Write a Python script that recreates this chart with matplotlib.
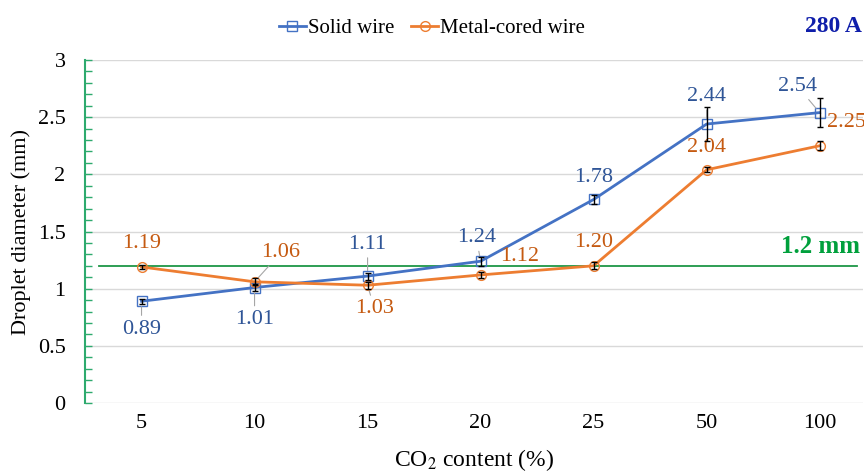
import matplotlib.pyplot as plt
import numpy as np

plt.rcParams['font.family'] = ['Liberation Serif', 'DejaVu Serif']
plt.rcParams['mathtext.fontset'] = 'stix'

co2 = ['5', '10', '15', '20', '25', '50', '100']
solid = [0.89, 1.01, 1.11, 1.24, 1.78, 2.44, 2.54]
solid_err = [0.02, 0.03, 0.03, 0.04, 0.04, 0.15, 0.13]
cored = [1.19, 1.06, 1.03, 1.12, 1.20, 2.04, 2.25]
cored_err = [0.02, 0.03, 0.03, 0.03, 0.03, 0.02, 0.04]

# label offsets in points (dx, dy), leader line yes/no
solid_off = [(0, -20, True), (0, -23, True), (0, 23, True), (-3, 17, True),
             (0, 16, False), (0, 20, True), (-16, 19, True)]
cored_off = [(0, 17, False), (19, 21, True), (5, -17, True), (28, 13, False),
             (0, 17, False), (0, 16, False), (19, 17, False)]

blue = '#4472C4'
orange = '#ED7D31'
blue_txt = '#2F5597'
orange_txt = '#C55A11'
green = '#2EAA6E'

fig = plt.figure(figsize=(8.64, 4.74), dpi=100)
ax = fig.add_axes([0.0984, 0.1498, 0.9, 0.7236])
x = np.arange(len(co2))

ax.errorbar(x, solid, yerr=solid_err, fmt='none', ecolor='black', elinewidth=1, capsize=2.5, zorder=4)
ax.errorbar(x, cored, yerr=cored_err, fmt='none', ecolor='black', elinewidth=1, capsize=2.5, zorder=4)
ax.plot(x, solid, color=blue, lw=2, marker='s', ms=7, mfc='none', mec=blue, mew=1,
        label='Solid wire', zorder=3)
ax.plot(x, cored, color=orange, lw=2, marker='o', ms=7, mfc='none', mec=orange, mew=1,
        label='Metal-cored wire', zorder=3)

lead_style = dict(arrowstyle='-', color='#A6A6A6', lw=0.8, shrinkA=1, shrinkB=4)
for xi, v, (dx, dy, lead) in zip(x, solid, solid_off):
    ax.annotate(f'{v:.2f}', (xi, v), xytext=(dx, dy), textcoords='offset points',
                ha='center', va='center', fontsize=16, color=blue_txt,
                arrowprops=lead_style if lead else None)
for xi, v, (dx, dy, lead) in zip(x, cored, cored_off):
    ax.annotate(f'{v:.2f}', (xi, v), xytext=(dx, dy), textcoords='offset points',
                ha='center', va='center', fontsize=16, color=orange_txt,
                arrowprops=lead_style if lead else None)

ax.plot([-0.38, 6.33], [1.2, 1.2], color='#1E9646', lw=1.3, zorder=2)
ax.text(6.36, 1.27, '1.2 mm', color='#00A03C', fontsize=18, fontweight='bold', ha='right', va='bottom')

ax.set_xlim(-0.5, 6.38)
ax.set_ylim(0, 3)
ax.set_yticks(np.arange(0, 3.01, 0.5))
ax.set_yticklabels(['0', '0.5', '1', '1.5', '2', '2.5', '3'])
ax.set_yticks(np.arange(0, 3.01, 0.1), minor=True)
ax.set_xticks(x)
ax.set_xticklabels(co2)
ax.yaxis.grid(True, color='#D9D9D9', lw=1)
ax.set_axisbelow(True)
for s in ['top', 'right', 'bottom']:
    ax.spines[s].set_visible(False)
ax.spines['left'].set_color(green)
ax.spines['left'].set_linewidth(1.5)
ax.tick_params(axis='y', which='both', direction='in', color=green, length=5, width=1, labelsize=16, pad=14)
ax.tick_params(axis='x', length=0, labelsize=16, pad=8)
ax.set_xlabel('CO$_2$ content (%)', fontsize=17, labelpad=10)
ax.set_ylabel('Droplet diameter (mm)', fontsize=16)
ax.yaxis.set_label_coords(-0.069, 0.5)

fig.legend(loc='upper center', bbox_to_anchor=(0.5, 1.0), ncol=2, frameon=False, fontsize=15,
           handlelength=1.3, handletextpad=0.1, columnspacing=0.8)
fig.text(0.998, 0.945, '280 A', color='#0F1EAA', fontsize=17, fontweight='bold', ha='right', va='center')

plt.savefig('out.png', dpi=100)
